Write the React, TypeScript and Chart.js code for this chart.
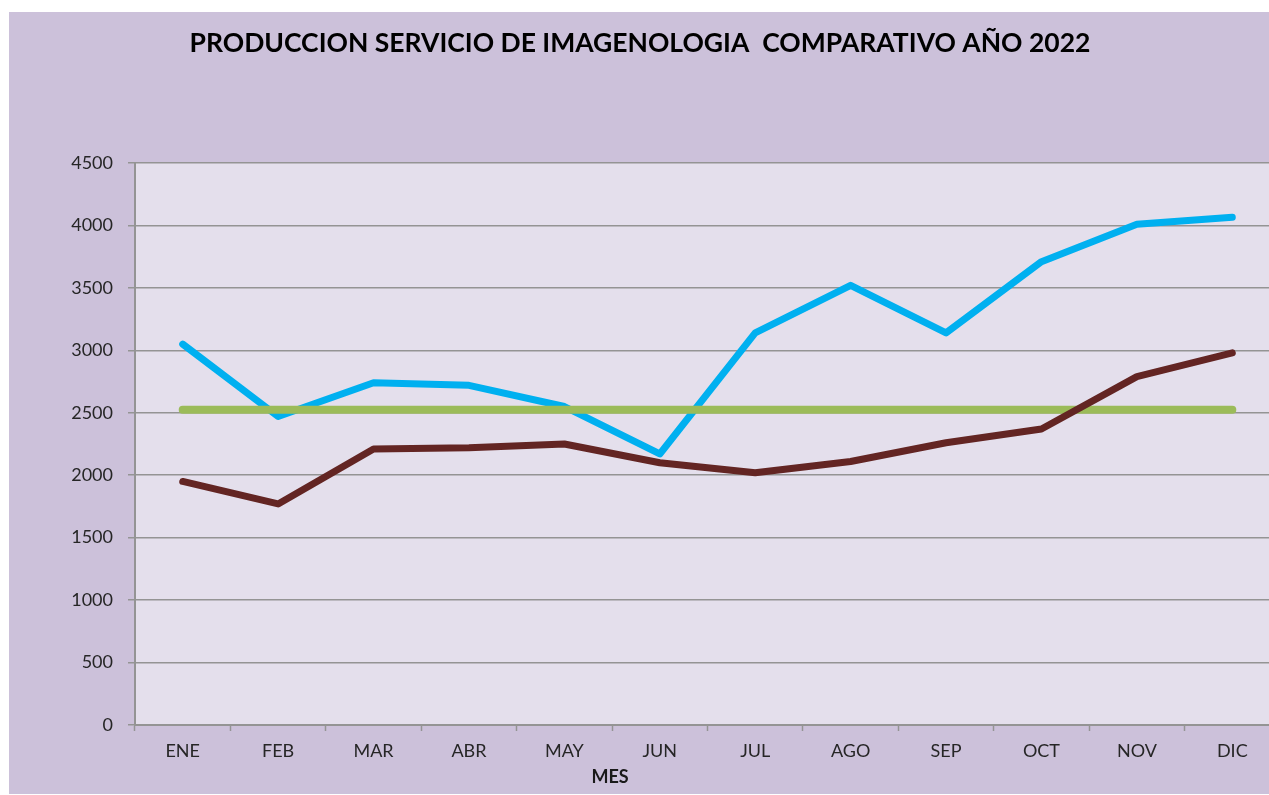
import React, { useEffect, useRef } from "react";
import { Chart, registerables } from "chart.js";

Chart.register(...registerables);

const TITLE = "PRODUCCION SERVICIO DE IMAGENOLOGIA  COMPARATIVO AÑO 2022";
const X_TITLE = "MES";
const months = ["ENE", "FEB", "MAR", "ABR", "MAY", "JUN", "JUL", "AGO", "SEP", "OCT", "NOV", "DIC"];
const serie2022 = [3050, 2470, 2740, 2720, 2550, 2170, 3140, 3520, 3140, 3710, 4010, 4065];
const serie2021 = [1950, 1770, 2210, 2220, 2250, 2100, 2020, 2110, 2260, 2370, 2790, 2980];
const meta = [2525, 2525, 2525, 2525, 2525, 2525, 2525, 2525, 2525, 2525, 2525, 2525];
const yTicks = [0, 500, 1000, 1500, 2000, 2500, 3000, 3500, 4000, 4500];

const FONT = "Lato, 'Open Sans', sans-serif";
const OUTER_BG = "#CCC1DA";
const PLOT_BG = "#E4DFEC";
const GRID = "#949494";

export default function App() {
  const ref = useRef<HTMLCanvasElement | null>(null);

  useEffect(() => {
    if (!ref.current) return;
    const bgPlugin = {
      id: "bgPlugin",
      beforeDraw(chart: any) {
        const { ctx, chartArea, width, height } = chart;
        ctx.save();
        ctx.fillStyle = OUTER_BG;
        ctx.fillRect(0, 0, width, height);
        ctx.fillStyle = PLOT_BG;
        ctx.fillRect(chartArea.left, chartArea.top, chartArea.right - chartArea.left, chartArea.bottom - chartArea.top);
        ctx.restore();
      },
      afterDraw(chart: any) {
        const { ctx } = chart;
        ctx.save();
        ctx.fillStyle = "#000000";
        ctx.textAlign = "center";
        ctx.textBaseline = "alphabetic";
        ctx.font = `bold 26.5px ${FONT}`;
        ctx.fillText(TITLE, 631, 40);
        ctx.fillStyle = "#1a1a1a";
        ctx.font = `bold 18px ${FONT}`;
        ctx.fillText(X_TITLE, 601, 771);
        ctx.restore();
      },
    };

    const chart = new Chart(ref.current, {
      type: "line",
      data: {
        labels: months,
        datasets: [
          {
            label: "2021",
            data: serie2021,
            borderColor: "#632523",
            borderWidth: 7,
            pointRadius: 0,
            borderCapStyle: "round",
            borderJoinStyle: "round",
            tension: 0,
          },
          {
            label: "Meta",
            data: meta,
            borderColor: "#9BBB59",
            borderWidth: 8,
            pointRadius: 0,
            borderCapStyle: "round",
            borderJoinStyle: "round",
            tension: 0,
          },
          {
            label: "2022",
            data: serie2022,
            borderColor: "#00B0F0",
            borderWidth: 7,
            pointRadius: 0,
            borderCapStyle: "round",
            borderJoinStyle: "round",
            tension: 0,
          },
        ],
      },
      options: {
        animation: false,
        responsive: false,
        maintainAspectRatio: false,
        layout: { padding: { top: 151, right: 19, bottom: 19, left: 0 } },
        plugins: {
          legend: { display: false },
          title: { display: false },
          tooltip: { enabled: false },
        },
        scales: {
          x: {
            type: "category",
            offset: true,
            afterFit: (scale: any) => {
              scale.height = 50;
            },
            grid: {
              offset: true,
              drawOnChartArea: false,
              drawTicks: true,
              tickLength: 6,
              tickColor: GRID,
              tickWidth: 1.5,
            },
            border: { display: true, color: GRID, width: 2 },
            ticks: {
              color: "#262626",
              font: { family: FONT, size: 18 },
              padding: 9,
              maxRotation: 0,
              autoSkip: false,
            },
          },
          y: {
            min: 0,
            max: 4500,
            afterFit: (scale: any) => {
              scale.width = 126;
            },
            afterBuildTicks: (scale: any) => {
              scale.ticks = yTicks.map((v) => ({ value: v }));
            },
            grid: {
              color: GRID,
              lineWidth: 1.5,
              drawTicks: true,
              tickLength: 7,
              tickColor: GRID,
            },
            border: { display: true, color: GRID, width: 2 },
            ticks: {
              color: "#262626",
              font: { family: FONT, size: 18 },
              padding: 15,
              callback: (value: any) => String(value),
            },
          },
        },
      },
      plugins: [bgPlugin],
    } as any);

    return () => chart.destroy();
  }, []);

  return (
    <div
      style={{
        position: "fixed",
        left: 0,
        top: 0,
        width: 1269,
        height: 795,
        overflow: "hidden",
        background: "#ffffff",
      }}
    >
      <div style={{ position: "absolute", left: 9, top: 12, width: 1290, height: 782 }}>
        <canvas ref={ref} width={1290} height={782} style={{ width: 1290, height: 782, display: "block" }} />
      </div>
    </div>
  );
}
